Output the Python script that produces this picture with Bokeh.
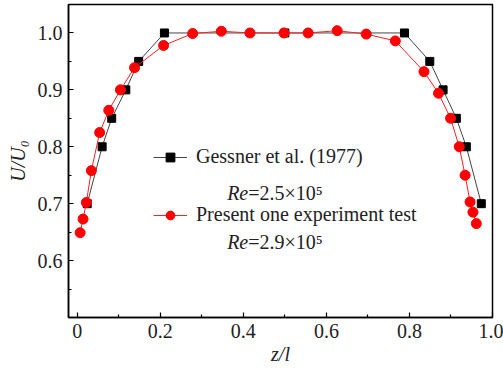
from bokeh.plotting import figure
from bokeh.models import (FixedTicker, Range1d, Legend, LegendItem, Label)
from bokeh.embed import file_html
from bokeh.resources import INLINE

# Gessner et al. (1977), Re = 2.5e5
gessner_x = [0.024, 0.060, 0.083, 0.117, 0.148, 0.210, 0.500, 0.788, 0.849, 0.881, 0.913, 0.937, 0.973]
gessner_y = [0.700, 0.800, 0.850, 0.900, 0.950, 1.000, 1.000, 1.000, 0.950, 0.900, 0.850, 0.800, 0.700]

# Present experiment, Re = 2.9e5
present_x = [0.007, 0.014, 0.022, 0.034, 0.054, 0.076, 0.104, 0.138, 0.208, 0.278, 0.347, 0.416, 0.498,
             0.556, 0.626, 0.696, 0.766, 0.835, 0.870, 0.899, 0.920, 0.934, 0.946, 0.953, 0.961]
present_y = [0.649, 0.673, 0.702, 0.758, 0.825, 0.864, 0.900, 0.939, 0.978, 0.999, 1.003, 1.000, 1.000,
             1.000, 1.004, 0.998, 0.986, 0.932, 0.894, 0.850, 0.800, 0.750, 0.703, 0.685, 0.665]

x_ticks = [0.0, 0.2, 0.4, 0.6, 0.8, 1.0]
x_tick_labels = ["0", "0.2", "0.4", "0.6", "0.8", "1.0"]
x_minor = [0.1, 0.3, 0.5, 0.7, 0.9]
y_ticks = [0.6, 0.7, 0.8, 0.9, 1.0]
y_tick_labels = ["0.6", "0.7", "0.8", "0.9", "1.0"]
y_minor = [0.55, 0.65, 0.75, 0.85, 0.95]

FONT = "Liberation Serif"

p = figure(width=503, height=372, output_backend="svg", toolbar_location=None,
           x_range=Range1d(-0.021, 1.0), y_range=Range1d(0.5, 1.05))
p.min_border_left = 68
p.min_border_right = 11
p.min_border_top = 4
p.min_border_bottom = 55
p.grid.visible = False
p.outline_line_color = "black"
p.outline_line_width = 1.5
p.background_fill_color = "white"
p.border_fill_color = "white"

p.xaxis.ticker = FixedTicker(ticks=x_ticks, minor_ticks=x_minor)
p.yaxis.ticker = FixedTicker(ticks=y_ticks, minor_ticks=y_minor)
p.xaxis.major_label_overrides = {t: l for t, l in zip(x_ticks, x_tick_labels)}
p.yaxis.major_label_overrides = {t: l for t, l in zip(y_ticks, y_tick_labels)}

for ax in (p.xaxis, p.yaxis):
    ax.axis_line_color = "black"
    ax.axis_line_width = 1.5
    ax.major_tick_in = 5
    ax.major_tick_out = 0
    ax.minor_tick_in = 3
    ax.minor_tick_out = 0
    ax.major_tick_line_color = "black"
    ax.minor_tick_line_color = "black"
    ax.major_tick_line_width = 1.2
    ax.minor_tick_line_width = 1.2
    ax.major_label_text_font = FONT
    ax.major_label_text_font_size = "20px"
    ax.major_label_text_color = "#222222"
    ax.axis_label_text_font = FONT
    ax.axis_label_text_font_size = "20px"
    ax.axis_label_text_font_style = "italic"
    ax.axis_label_text_color = "#222222"

p.xaxis.axis_label = "z/l"
p.yaxis.axis_label = "U/U₀"
p.xaxis.major_label_standoff = 6
p.yaxis.major_label_standoff = 6
p.xaxis.axis_label_standoff = 2
p.yaxis.axis_label_standoff = 6

r1l = p.line(gessner_x, gessner_y, line_color="#444444", line_width=1)
r1s = p.scatter(gessner_x, gessner_y, marker="square", size=8, fill_color="black", line_color="black")
r2l = p.line(present_x, present_y, line_color="#ff2020", line_width=1)
r2s = p.scatter(present_x, present_y, marker="circle", size=10, fill_color="#ff0000", line_color="#ff0000")

legend = Legend(items=[LegendItem(label="Gessner et al. (1977)", renderers=[r1l, r1s]),
                       LegendItem(label="Present one experiment test", renderers=[r2l, r2s])],
                location=(85, 91), padding=0, margin=0, spacing=35,
                label_height=22, glyph_height=22, glyph_width=34, label_standoff=9,
                border_line_color=None, background_fill_alpha=0,
                label_text_font=FONT, label_text_font_size="20px", label_text_color="#222222")
p.add_layout(legend, "center")

for ly, txt in ((0.718, "=2.5×10⁵"), (0.633, "=2.9×10⁵")):
    p.add_layout(Label(x=0.361, y=ly, text="Re", text_font=FONT, text_font_size="20px",
                       text_font_style="italic", text_baseline="middle", text_color="#222222"))
    p.add_layout(Label(x=0.361, y=ly, x_offset=21, text=txt, text_font=FONT, text_font_size="20px",
                       text_baseline="middle", text_color="#222222"))

open("out.html", "w").write(file_html(p, INLINE))
